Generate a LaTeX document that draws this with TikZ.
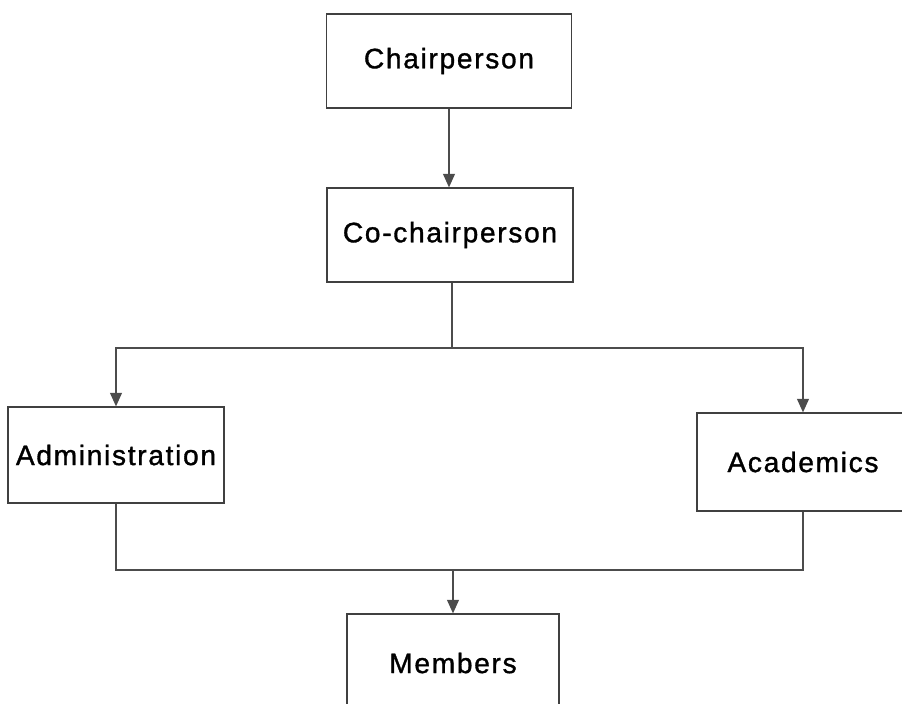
\documentclass[tikz,border=0pt]{standalone}
\usepackage{fontspec}
\usepackage{tikz}
\usetikzlibrary{arrows.meta, positioning}
\newfontfamily\orgfont[LetterSpace=6, FakeBold=1.2]{Liberation Sans}

\begin{document}
\begin{tikzpicture}[
    x=0.025cm, y=-0.025cm,
    org box/.style = {
        rectangle,
        draw=black!75,
        line width=0.9pt,
        minimum height=2.35cm,
        font=\orgfont\fontsize{20}{24}\selectfont,
        text=black,
        inner sep=2pt
    },
    link/.style = {draw=black!70, line width=0.9pt},
    flow/.style = {link, -{Triangle[length=3.4mm, width=3mm]}}
]
\useasboundingbox (0,0) rectangle (902,704);

\node [org box, minimum width=6.12cm] (chair) at (449,61) {Chairperson};
\node [org box, minimum width=6.15cm] (cochair) at (450,235) {Co-chairperson};
\node [org box, minimum width=5.4cm, minimum height=2.4cm] (admin) at (116,455) {Administration};
\node [org box, minimum width=5.3cm, minimum height=2.45cm] (acad) at (803,462) {Academics};
\node [org box, minimum width=5.3cm, minimum height=2.45cm] (members) at (453,663) {Members};

\coordinate (split) at (452,348);
\coordinate (join) at (453,570);

\draw [flow] (chair.south) -- (chair.south |- cochair.north);
\draw [link] (cochair.south -| split) -- (split);
\draw [flow] (split) -| (admin.north);
\draw [flow] (split) -| (acad.north);
\draw [link] (admin.south) |- (join) -| (acad.south);
\draw [flow] (join) -- (members.north);

\end{tikzpicture}
\end{document}
